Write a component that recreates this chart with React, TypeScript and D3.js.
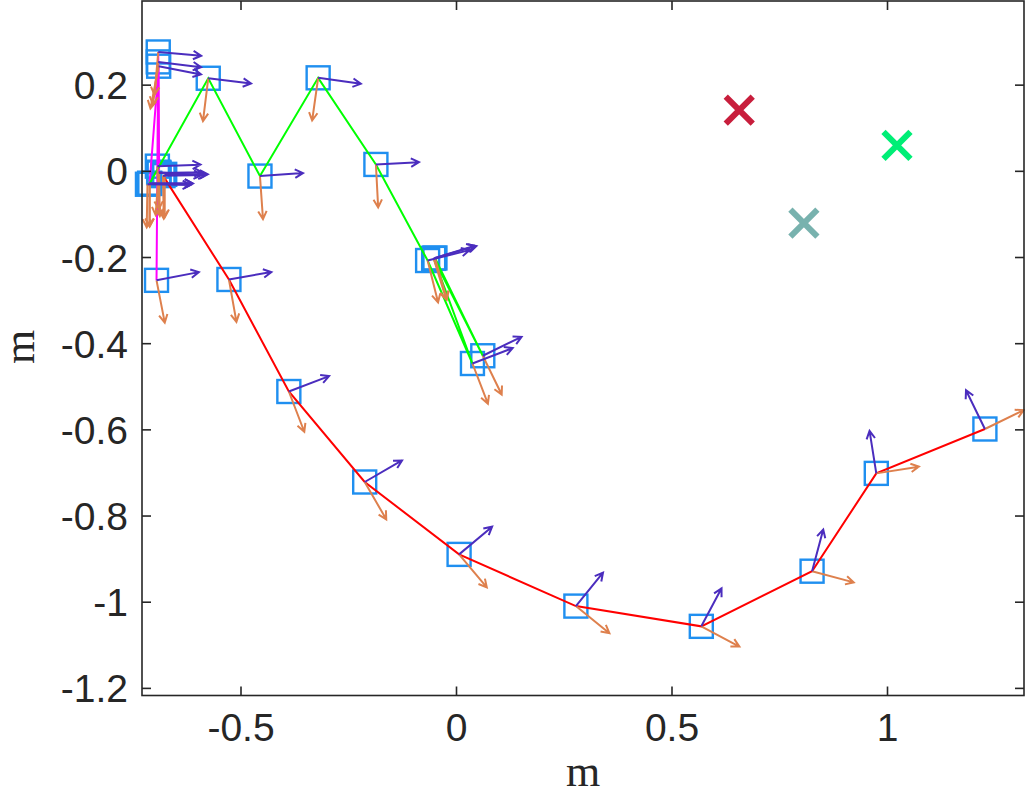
import * as d3 from "d3";

// axis ticks
const xTicks = [-0.5, 0, 0.5, 1];
const xTickLabels = ["-0.5", "0", "0.5", "1"];
const yTicks = [-1.2, -1, -0.8, -0.6, -0.4, -0.2, 0, 0.2];
const yTickLabels = ["-1.2", "-1", "-0.8", "-0.6", "-0.4", "-0.2", "0", "0.2"];

// poses: [x (m), y (m), heading (deg)]
type Pose = [number, number, number];

const redPath: Pose[] = [
  [-0.681, -0.010, 1],
  [-0.528, -0.251, 10],
  [-0.389, -0.511, 21],
  [-0.213, -0.721, 30],
  [0.006, -0.889, 40],
  [0.277, -1.009, 51],
  [0.568, -1.056, 62],
  [0.825, -0.928, 75],
  [0.974, -0.701, 99],
  [1.226, -0.598, 116],
];

const greenPath: Pose[] = [
  [-0.712, -0.028, 0],
  [-0.576, 0.216, -7],
  [-0.456, -0.011, 4],
  [-0.321, 0.217, -8],
  [-0.187, 0.016, 3],
  [-0.067, -0.207, 14],
  [0.037, -0.446, 21],
  [-0.053, -0.202, 17],
  [0.061, -0.428, 26],
  [-0.050, -0.201, 16],
];

const magentaPath: Pose[] = [
  [-0.712, -0.028, 0],
  [-0.691, 0.244, -11],
  [-0.690, -0.004, 1],
  [-0.692, 0.254, -7],
  [-0.691, -0.002, -4],
  [-0.692, 0.277, -5],
  [-0.694, 0.012, 2],
  [-0.696, -0.253, 11],
];

const extraPoses: Pose[] = [
  [-0.717, -0.030, -1],
  [-0.677, -0.007, 0],
];

// target crosses
const targetX = [0.656, 0.806, 1.022];
const targetY = [0.142, -0.120, 0.060];
const targetColors = ["#c81e3c", "#78b2ae", "#00ee76"];

const W = 1025;
const H = 805;
const arrowLen = 0.1;

const axisColor = "#262626";
const squareColor = "#1f8ff0";
const headingColor = "#4b2dbe";
const normalColor = "#de804d";

const x = d3.scaleLinear().domain([-0.7297, 1.3167]).range([142, 1024]);
const y = d3.scaleLinear().domain([-1.2165, 0.3953]).range([695.5, 1]);

function arrowPath(p: Pose, deg: number) {
  const sx = x(p[0]);
  const sy = y(p[1]);
  const a = (deg * Math.PI) / 180;
  const ex = x(p[0] + arrowLen * Math.cos(a));
  const ey = y(p[1] + arrowLen * Math.sin(a));
  const ang = Math.atan2(ey - sy, ex - sx);
  const h = 9;
  const phi = (28 * Math.PI) / 180;
  const w1x = ex - h * Math.cos(ang - phi);
  const w1y = ey - h * Math.sin(ang - phi);
  const w2x = ex - h * Math.cos(ang + phi);
  const w2y = ey - h * Math.sin(ang + phi);
  return `M${sx},${sy}L${ex},${ey}M${w1x},${w1y}L${ex},${ey}L${w2x},${w2y}`;
}

export default function App() {
  const line = d3.line<Pose>().x(d => x(d[0])).y(d => y(d[1]));
  const poses = [...redPath, ...greenPath, ...magentaPath, ...extraPoses];
  const [x0, x1] = x.range();
  const [y0, y1] = y.range();
  const tick = 9;
  const sq = 23;
  const cr = 13.5;

  return (
    <svg width={W} height={H} style={{ position: "absolute", left: 0, top: 0, background: "#fff" }}>
      <rect x={0} y={0} width={W} height={H} fill="#fff" />

      {/* squares */}
      <g fill="none" stroke={squareColor} strokeWidth={2.4}>
        {poses.map((p, i) => (
          <rect key={i} x={x(p[0]) - sq / 2} y={y(p[1]) - sq / 2} width={sq} height={sq} />
        ))}
      </g>

      {/* trajectories */}
      <path d={line(magentaPath) ?? ""} fill="none" stroke="#ff00ff" strokeWidth={2} />
      <path d={line(greenPath) ?? ""} fill="none" stroke="#00ff00" strokeWidth={2} />
      <path d={line(redPath) ?? ""} fill="none" stroke="#ff0000" strokeWidth={2} />

      {/* orientation arrows */}
      <g fill="none" strokeWidth={2}>
        {poses.map((p, i) => (
          <path key={"o" + i} d={arrowPath(p, p[2] - 90)} stroke={normalColor} />
        ))}
        {poses.map((p, i) => (
          <path key={"h" + i} d={arrowPath(p, p[2])} stroke={headingColor} />
        ))}
      </g>

      {/* targets */}
      <g strokeWidth={6}>
        {targetX.map((tx, i) => {
          const cx = x(tx);
          const cy = y(targetY[i]);
          return (
            <path key={i} stroke={targetColors[i]}
              d={`M${cx - cr},${cy - cr}L${cx + cr},${cy + cr}M${cx - cr},${cy + cr}L${cx + cr},${cy - cr}`} />
          );
        })}
      </g>

      {/* axes box */}
      <g stroke={axisColor} strokeWidth={1.6} fill="none">
        <rect x={x0} y={y1} width={x1 - x0} height={y0 - y1} />
        {xTicks.map((t, i) => (
          <g key={"xt" + i}>
            <line x1={x(t)} x2={x(t)} y1={y0} y2={y0 - tick} />
            <line x1={x(t)} x2={x(t)} y1={y1} y2={y1 + tick} />
          </g>
        ))}
        {yTicks.map((t, i) => (
          <g key={"yt" + i}>
            <line x1={x0} x2={x0 + tick} y1={y(t)} y2={y(t)} />
            <line x1={x1} x2={x1 - tick} y1={y(t)} y2={y(t)} />
          </g>
        ))}
      </g>

      <g fill={axisColor} fontFamily="'Liberation Sans', Arial, Helvetica, sans-serif" fontSize={39}>
        {xTicks.map((t, i) => (
          <text key={"xl" + i} x={x(t)} y={741} textAnchor="middle">{xTickLabels[i]}</text>
        ))}
        {yTicks.map((t, i) => (
          <text key={"yl" + i} x={128} y={y(t)} dy="0.36em" textAnchor="end">{yTickLabels[i]}</text>
        ))}
      </g>

      <g fill={axisColor} fontFamily="'Liberation Serif', 'DejaVu Serif', serif" fontSize={44}>
        <text x={583} y={786} textAnchor="middle">m</text>
        <text transform="translate(34,347) rotate(-90)" textAnchor="middle">m</text>
      </g>
    </svg>
  );
}
